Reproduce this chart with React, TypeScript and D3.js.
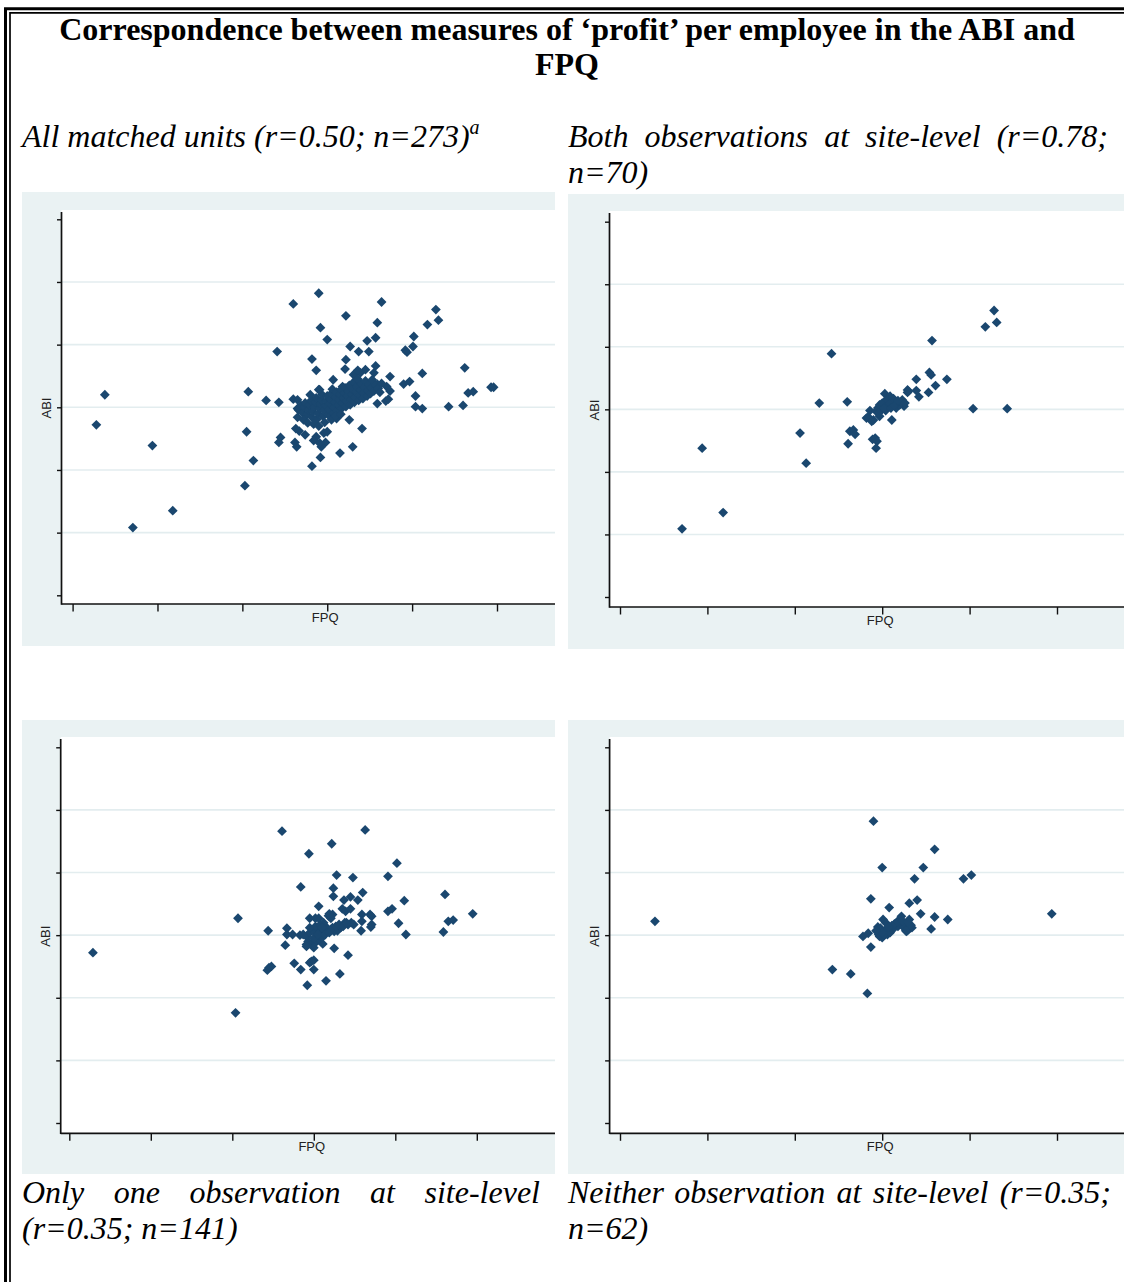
import React, { useEffect, useRef } from 'react';
import * as d3 from 'd3';

type Pt = [number, number];

// axis ticks (no labels are printed on the original axes)
const xTickValues = [-3, -2, -1, 0, 1, 2];
const yTickValues = [-3, -2, -1, 0, 1, 2, 3];
const yGridValues = [-2, -1, 0, 1, 2];

const titleLines = [
  'Correspondence between measures of \u2018profit\u2019 per employee in the ABI and',
  'FPQ',
];

// [FPQ, ABI] pairs, in tick units
const allMatched: Pt[] = [
  [-2.62, 0.2], [-2.72, -0.28], [-2.06, -0.61], [-2.29, -1.92], [-1.82, -1.65],
  [-0.97, -1.25], [-0.87, -0.85], [-0.95, -0.39], [-0.93, 0.25], [-0.72, 0.11],
  [-0.57, 0.08], [-0.59, 0.89], [-0.4, 1.65], [-0.1, 1.82], [-0.08, 1.27],
  [0.0, 1.08], [0.22, 1.46], [0.64, 1.68], [0.59, 1.35], [0.57, 1.11],
  [0.47, 1.06], [0.27, 0.97], [0.37, 0.89], [0.49, 0.89], [0.22, 0.76],
  [-0.18, 0.77], [-0.13, 0.59], [0.07, 0.44], [1.28, 1.56], [1.31, 1.39],
  [1.18, 1.32], [1.02, 1.13], [1.01, 0.97], [0.92, 0.91], [0.94, 0.88],
  [1.12, 0.54], [1.62, 0.63], [0.97, 0.41], [0.9, 0.37], [0.74, 0.49],
  [1.04, 0.18], [1.04, 0.01], [1.12, -0.02], [1.43, 0.01], [1.6, 0.03],
  [1.66, 0.23], [1.72, 0.25], [1.93, 0.32], [1.96, 0.32], [0.7, 0.33],
  [0.74, 0.26], [0.69, 0.1], [0.72, 0.13], [0.59, 0.37], [0.59, 0.06],
  [0.57, 0.66], [0.55, 0.55], [0.45, 0.6], [0.39, 0.55], [0.31, 0.52],
  [0.21, 0.61], [0.41, -0.34], [0.3, -0.63], [0.15, -0.73], [0.26, -0.2],
  [0.11, -0.18], [-0.08, -0.8], [-0.18, -0.94], [-0.02, -0.56], [-0.07, -0.63],
  [-0.13, -0.47], [-0.16, -0.53], [-0.04, -0.41], [0.0, -0.39], [-0.26, -0.44],
  [-0.36, -0.63], [-0.38, -0.56], [-0.55, -0.48], [-0.57, -0.56], [-0.33, -0.38],
  [-0.37, -0.34], [-0.35, -0.16], [-0.4, 0.13], [-0.35, 0.12], [-0.35, -0.02],
  [-0.09, 0.28], [0.18, 0.33], [-0.09, -0.57], [0.36, 0.59],
  // dense core
  [-0.34, -0.04], [-0.31, 0.03], [-0.29, -0.09], [-0.27, 0.0], [-0.26, 0.07],
  [-0.24, -0.12], [-0.22, -0.04], [-0.21, 0.04], [-0.19, 0.11], [-0.18, -0.16],
  [-0.17, -0.07], [-0.15, 0.01], [-0.14, 0.08], [-0.13, 0.15], [-0.12, -0.19],
  [-0.11, -0.1], [-0.09, -0.02], [-0.08, 0.05], [-0.07, 0.12], [-0.06, 0.2],
  [-0.05, -0.14], [-0.04, -0.05], [-0.02, 0.03], [-0.01, 0.1], [0.0, 0.18],
  [0.01, -0.12], [0.02, -0.03], [0.03, 0.06], [0.04, 0.13], [0.05, 0.22],
  [0.06, 0.29], [0.07, -0.09], [0.08, 0.0], [0.09, 0.08], [0.1, 0.16],
  [0.11, 0.24], [0.12, -0.05], [0.13, 0.04], [0.14, 0.12], [0.15, 0.2],
  [0.16, 0.28], [0.17, -0.02], [0.18, 0.07], [0.19, 0.15], [0.2, 0.23],
  [0.21, 0.31], [0.22, 0.01], [0.23, 0.1], [0.24, 0.18], [0.25, 0.26],
  [0.26, 0.35], [0.27, 0.04], [0.28, 0.13], [0.29, 0.21], [0.3, 0.29],
  [0.31, 0.4], [0.32, 0.08], [0.33, 0.16], [0.34, 0.25], [0.35, 0.33],
  [0.36, 0.45], [0.37, 0.11], [0.38, 0.19], [0.39, 0.28], [0.4, 0.37],
  [0.42, 0.14], [0.43, 0.23], [0.44, 0.32], [0.45, 0.42], [0.47, 0.18],
  [0.48, 0.27], [0.49, 0.36], [0.51, 0.22], [0.52, 0.31], [0.53, 0.44],
  [0.55, 0.26], [0.57, 0.35], [0.6, 0.3], [0.62, 0.24], [0.64, 0.38],
  [-0.28, -0.2], [-0.23, -0.25], [-0.16, -0.27], [-0.1, -0.3], [-0.03, -0.24],
  [0.05, -0.2], [0.1, -0.14], [0.16, -0.11], [-0.2, 0.2], [-0.1, 0.28],
];

const bothSite: Pt[] = [
  [-2.29, -1.91], [-2.06, -0.62], [-1.82, -1.65], [-0.94, -0.38], [-0.87, -0.86],
  [-0.72, 0.1], [-0.58, 0.89], [-0.4, 0.12], [-0.39, -0.55], [-0.37, -0.35],
  [-0.33, -0.33], [-0.31, -0.4], [-0.18, -0.14], [-0.16, -0.12], [-0.14, -0.02],
  [-0.12, -0.19], [-0.11, -0.48], [-0.08, -0.46], [-0.06, -0.51], [-0.07, -0.62],
  [-0.03, -0.11], [-0.05, 0.02], [-0.03, 0.07], [0.01, 0.05], [0.03, 0.25],
  [0.05, 0.1], [0.07, 0.18], [0.09, 0.21], [0.11, 0.07], [0.11, -0.17],
  [0.13, 0.13], [0.16, 0.02], [0.18, 0.1], [0.23, 0.15], [0.25, 0.05],
  [0.29, 0.31], [0.29, 0.27], [0.39, 0.48], [0.39, 0.3], [0.42, 0.2],
  [0.53, 0.27], [0.54, 0.59], [0.56, 0.55], [0.61, 0.38], [0.74, 0.48],
  [0.57, 1.1], [1.04, 0.01], [1.43, 0.01], [1.18, 1.32], [1.28, 1.58],
  [1.31, 1.39], [-0.01, -0.01], [0.03, 0.13], [0.07, 0.05], [0.04, -0.02],
  [-0.07, -0.03], [0.2, 0.07], [0.22, 0.11], [0.0, 0.1], [0.06, 0.15],
  [0.09, 0.09], [0.13, 0.17], [0.02, 0.02], [-0.04, -0.06], [0.1, 0.02],
  [0.14, 0.06], [0.18, 0.14], [0.26, 0.1], [0.3, 0.29], [-0.1, -0.17],
];

const oneSite: Pt[] = [
  [-2.71, -0.28], [-0.96, -1.24], [-0.93, 0.27], [-0.56, 0.07], [-0.57, -0.56],
  [-0.55, -0.52], [-0.52, -0.5], [-0.35, -0.16], [-0.33, 0.11], [-0.33, 0.01],
  [-0.26, 0.01], [-0.24, -0.45], [-0.16, -0.55], [-0.16, 0.77], [-0.08, -0.8],
  [-0.06, 1.3], [-0.05, 0.27], [-0.05, -0.44], [-0.03, -0.42], [0.0, -0.4],
  [0.0, -0.55], [0.02, 0.27], [0.06, 0.46], [0.11, -0.14], [0.15, -0.73],
  [0.18, 0.31], [0.22, 1.46], [0.24, 0.75], [0.24, 0.62], [0.23, 0.33],
  [0.25, -0.21], [0.28, 0.96], [0.32, -0.62], [0.35, 0.42], [0.37, 0.56],
  [0.39, 0.38], [0.42, -0.32], [0.45, 0.61], [0.45, 0.42], [0.48, 0.92],
  [0.49, 0.17], [0.54, 0.56], [0.6, 0.68], [0.59, 0.33], [0.58, 0.07],
  [0.63, 1.68], [0.69, 0.33], [0.71, 0.3], [0.7, 0.13], [0.71, 0.17],
  [-0.39, 1.66], [0.91, 0.94], [0.91, 0.38], [0.96, 0.42], [1.02, 1.15],
  [1.04, 0.19], [1.11, 0.55], [1.13, 0.01], [1.59, 0.05], [1.61, 0.65],
  [1.65, 0.22], [1.71, 0.24], [1.95, 0.34], [0.59, 0.22], [0.38, 0.2],
  [0.42, 0.17], [0.46, 0.2],
  [-0.17, 0.0], [-0.13, 0.01], [-0.09, -0.02], [-0.05, 0.04], [0.0, 0.06],
  [0.04, 0.09], [0.08, 0.06], [0.12, 0.09], [0.16, 0.12], [0.21, 0.09],
  [0.25, 0.06], [0.29, 0.07], [0.33, 0.12], [-0.07, -0.1], [-0.03, -0.15],
  [0.02, -0.12], [0.06, -0.07], [0.1, -0.04], [-0.09, -0.15], [0.0, -0.05],
  [0.05, 0.01], [0.14, 0.01], [0.19, 0.04], [0.23, 0.12], [0.27, 0.14],
  [0.31, 0.17], [0.36, 0.14], [0.4, 0.2], [-0.05, 0.12], [0.02, 0.14],
  [0.08, 0.17], [0.12, 0.2], [0.19, 0.34], [0.21, 0.27], [0.06, 0.27],
  [0.1, 0.12], [0.0, -0.2], [-0.09, -0.18],
];

const neitherSite: Pt[] = [
  [-2.6, 0.22], [-0.1, 1.82], [0.6, 1.37], [0.0, 1.08], [0.47, 1.08],
  [0.37, 0.9], [0.93, 0.9], [1.02, 0.96], [-0.13, 0.58], [0.08, 0.44],
  [0.31, 0.51], [0.4, 0.56], [0.44, 0.34], [0.6, 0.29], [0.75, 0.25],
  [0.56, 0.1], [1.94, 0.34], [-0.57, -0.55], [-0.36, -0.62], [-0.17, -0.93],
  [-0.13, -0.19], [-0.22, -0.02], [-0.16, 0.03], [-0.05, 0.13], [0.01, 0.25],
  [0.04, 0.2], [-0.02, 0.06], [0.0, -0.04], [-0.03, -0.02], [0.06, 0.01],
  [0.08, 0.06], [0.1, 0.12], [0.16, 0.17], [0.2, 0.25], [0.22, 0.3],
  [0.24, 0.2], [0.28, 0.06], [0.29, 0.14], [0.31, 0.25], [0.32, 0.12],
  [0.34, 0.12], [0.18, 0.14], [0.12, 0.09], [0.04, 0.04], [0.02, 0.01],
  [-0.04, 0.01], [0.14, 0.18], [0.26, 0.17], [0.3, 0.09], [-0.02, 0.11],
  [0.05, 0.09], [0.09, 0.04], [0.17, 0.21], [0.25, 0.12], [0.27, 0.07],
  [0.0, 0.04], [-0.07, 0.07], [0.11, 0.15], [0.23, 0.23], [0.33, 0.16],
  [0.29, 0.21], [0.07, 0.13],
];

interface PanelSpec {
  data: Pt[];
  bg: [number, number, number, number]; // x0, y0, x1, y1
  axisX: number;
  axisY: number;
  top: number;
  xRange: [number, number];
  yRange: [number, number];
}

const panels: PanelSpec[] = [
  { data: allMatched, bg: [22, 192, 555, 646], axisX: 61.5, axisY: 604, top: 212, xRange: [72.6, 497], yRange: [595.3, 219.3] },
  { data: bothSite, bg: [568, 194, 1124, 649], axisX: 609.5, axisY: 607, top: 213, xRange: [620, 1057], yRange: [597, 221.7] },
  { data: oneSite, bg: [22, 720, 555, 1174], axisX: 60.7, axisY: 1133.3, top: 739, xRange: [69.3, 476.8], yRange: [1123, 747.3] },
  { data: neitherSite, bg: [568, 720, 1124, 1174], axisX: 609.6, axisY: 1133.3, top: 739, xRange: [620, 1057], yRange: [1123, 747.3] },
];

const SERIF = '"Liberation Serif", "Times New Roman", serif';
const SANS = '"Liberation Sans", Arial, sans-serif';
const NAVY = '#1a476f';
const PANEL_BG = '#eaf2f3';
const GRID = '#e3edef';

const App: React.FC = () => {
  const ref = useRef<SVGSVGElement | null>(null);

  useEffect(() => {
    if (!ref.current) return;
    const svg = d3.select(ref.current);
    svg.selectAll('*').remove();

    // double frame round the figure
    svg.append('path').attr('d', 'M5.5,1282V8.8H1124')
      .attr('fill', 'none').attr('stroke', '#000').attr('stroke-width', 3);
    svg.append('path').attr('d', 'M10,1282V12.8H1124')
      .attr('fill', 'none').attr('stroke', '#000').attr('stroke-width', 1.7);

    svg.append('text')
      .attr('font-family', SERIF).attr('font-weight', 'bold').attr('font-size', 32)
      .attr('text-anchor', 'middle')
      .selectAll('tspan').data(titleLines).join('tspan')
        .attr('x', 567).attr('y', (d, i) => 40 + i * 35)
        .text(d => d);

    // caption line, spread to fill x0..x1 when x1 is given
    const caption = (words: string[], x0: number, y: number, x1?: number) => {
      const t = svg.append('text')
        .attr('y', y).attr('font-family', SERIF).attr('font-style', 'italic').attr('font-size', 32);
      const spans = words.map(w => t.append('tspan').text(w));
      if (x1 === undefined || spans.length < 2) {
        spans[0].attr('x', x0);
        return t;
      }
      const widths = spans.map(s => (s.node() as SVGTSpanElement).getComputedTextLength());
      const gap = (x1 - x0 - d3.sum(widths)) / (spans.length - 1);
      let x = x0;
      spans.forEach((s, i) => { s.attr('x', x); x += widths[i] + gap; });
      return t;
    };

    caption(['All matched units (r=0.50; n=273)'], 22, 147)
      .append('tspan').attr('dy', -13).attr('font-size', 20).text('a');
    caption(['Both', 'observations', 'at', 'site-level', '(r=0.78;'], 568, 147, 1108);
    caption(['n=70)'], 568, 183);
    caption(['Only', 'one', 'observation', 'at', 'site-level'], 22, 1203, 540);
    caption(['(r=0.35; n=141)'], 22, 1239);
    caption(['Neither', 'observation', 'at', 'site-level', '(r=0.35;'], 568, 1203, 1111);
    caption(['n=62)'], 568, 1239);

    const diamond = d3.symbol(d3.symbolSquare, 48)();

    panels.forEach(p => {
      const [bx0, by0, bx1, by1] = p.bg;
      const g = svg.append('g');

      g.append('rect').attr('x', bx0).attr('y', by0)
        .attr('width', bx1 - bx0).attr('height', by1 - by0).attr('fill', PANEL_BG);
      g.append('rect').attr('x', p.axisX).attr('y', p.top - 2)
        .attr('width', bx1 - p.axisX).attr('height', p.axisY - p.top + 2).attr('fill', '#fff');

      const x = d3.scaleLinear().domain([-3, 2]).range(p.xRange);
      const y = d3.scaleLinear().domain([-3, 3]).range(p.yRange);

      g.append('g').selectAll('line').data(yGridValues).join('line')
        .attr('x1', p.axisX).attr('x2', bx1)
        .attr('y1', d => y(d)).attr('y2', d => y(d))
        .attr('stroke', GRID).attr('stroke-width', 1.6);

      g.append('g')
        .attr('transform', `translate(${p.axisX},0)`)
        .call(d3.axisLeft(y).tickValues(yTickValues).tickSize(4.5).tickFormat(() => ''))
        .call(a => a.select('.domain').remove())
        .call(a => a.selectAll('.tick line').attr('stroke', '#111').attr('stroke-width', 1.4));

      g.append('g')
        .attr('transform', `translate(0,${p.axisY})`)
        .call(d3.axisBottom(x).tickValues(xTickValues).tickSize(7.5).tickFormat(() => ''))
        .call(a => a.select('.domain').remove())
        .call(a => a.selectAll('.tick line').attr('stroke', '#111').attr('stroke-width', 1.4));

      g.append('line').attr('x1', p.axisX).attr('x2', p.axisX)
        .attr('y1', p.top).attr('y2', p.axisY + 0.8)
        .attr('stroke', '#111').attr('stroke-width', 1.7);
      g.append('line').attr('x1', p.axisX).attr('x2', bx1)
        .attr('y1', p.axisY).attr('y2', p.axisY)
        .attr('stroke', '#111').attr('stroke-width', 1.7);

      g.append('g').selectAll('path').data(p.data).join('path')
        .attr('d', diamond)
        .attr('transform', d => `translate(${x(d[0])},${y(d[1])}) rotate(45)`)
        .attr('fill', NAVY);

      g.append('text')
        .attr('x', x(0) - 2).attr('y', p.axisY + 18)
        .attr('text-anchor', 'middle').attr('font-family', SANS).attr('font-size', 13)
        .attr('fill', '#222').text('FPQ');
      g.append('text')
        .attr('transform', `translate(${p.axisX - 11},${(p.top + p.axisY) / 2}) rotate(-90)`)
        .attr('text-anchor', 'middle').attr('font-family', SANS).attr('font-size', 13)
        .attr('fill', '#222').text('ABI');
    });
  }, []);

  return (
    <svg ref={ref} width={1124} height={1282}
      style={{ position: 'absolute', left: 0, top: 0, background: '#fff' }} />
  );
};

export default App;
